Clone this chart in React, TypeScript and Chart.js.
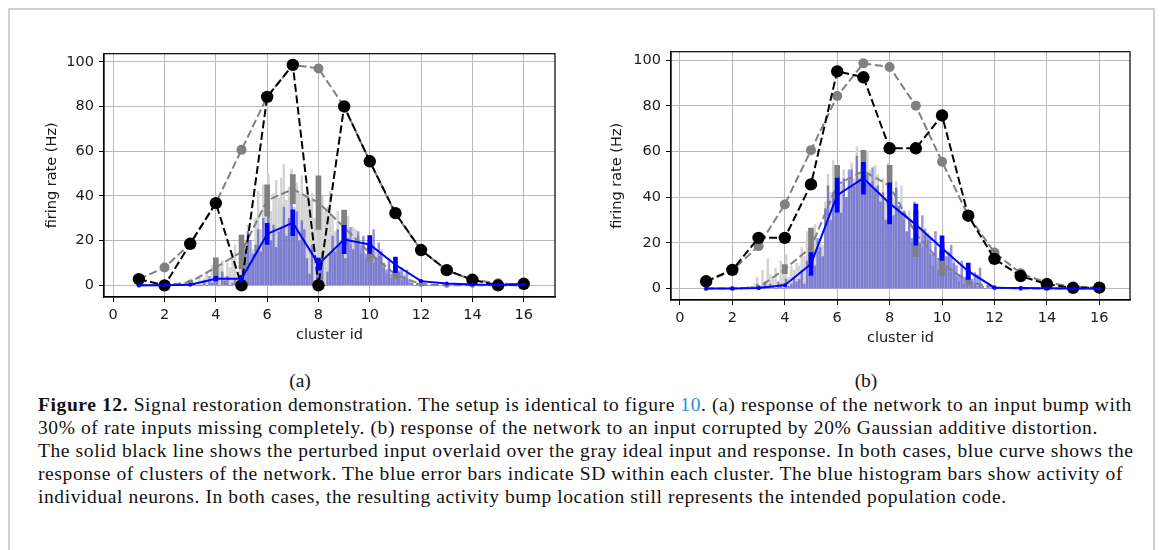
import React, { useEffect, useRef } from "react";
import { Chart, registerables } from "chart.js";
Chart.register(...registerables);

// ---------- data ----------
const CLUSTERS = [1, 2, 3, 4, 5, 6, 7, 8, 9, 10, 11, 12, 13, 14, 15, 16];
const X_TICKS = [0, 2, 4, 6, 8, 10, 12, 14, 16];
const Y_TICKS = [0, 20, 40, 60, 80, 100];

// ideal (unperturbed) input, same in both panels
const IDEAL_INPUT = [2.8, 8, 18.6, 36.8, 60.6, 84.3, 98.6, 97, 80, 55.5, 32, 15.8, 6.7, 2.5, 0.9, 0.4];
// (a) input with 30% of rates missing
const INPUT_A = [2.8, 0, 18.6, 36.8, 0, 84.3, 98.6, 0, 80, 55.5, 32.3, 15.8, 6.8, 2.5, 0, 0.7];
// (b) input with 20% gaussian distortion
const INPUT_B = [3.2, 8.2, 22.2, 22.2, 45.6, 95.1, 92.5, 61.4, 61.4, 75.8, 31.9, 13, 5.5, 1.9, 0.3, 0.4];

// ideal response (gray) mean / sd per cluster
const IDEAL_RESP_A = [0, 0, 1.5, 8, 15, 38, 43, 37, 26, 14.5, 4.8, 0.5, 0, 0, 0, 0];
const IDEAL_SD_A = [0, 0, 0.5, 4.3, 7.5, 7, 6.5, 12, 7.7, 3.7, 1.8, 0.3, 0, 0, 0, 0];
const IDEAL_RESP_B = [0, 0, 0.5, 8.5, 18, 45.5, 51.5, 45, 24, 11, 3, 0.5, 0, 0, 0, 0];
const IDEAL_SD_B = [0, 0, 0.3, 2, 8.5, 8.5, 9, 9, 10, 5.5, 1.5, 0.2, 0, 0, 0, 0];

// perturbed response (blue) mean / sd per cluster
const RESP_A = [0, 0, 0.3, 3, 3, 23, 28, 9.5, 20.5, 18.3, 9.2, 1.9, 0.8, 0.4, 0.3, 0.3];
const RESP_SD_A = [0, 0, 0.2, 1, 1.5, 4.7, 5.8, 2.7, 6.3, 4, 3.5, 0.4, 0, 0, 0, 0];
const RESP_B = [0, 0, 0.3, 1.5, 10.8, 40.9, 48.3, 37.3, 28, 17.7, 7.6, 0.4, 0.2, 0.1, 0, 0];
const RESP_SD_B = [0, 0, 0.1, 0.3, 5, 7.5, 7, 9, 9, 5.4, 3.6, 0.2, 0, 0, 0, 0];

// individual neurons (10 per cluster), clusters 3..12
const HIST_CLUSTERS = [3, 4, 5, 6, 7, 8, 9, 10, 11, 12];
const NEURON_OFFSETS = [-0.45, -0.35, -0.25, -0.15, -0.05, 0.05, 0.15, 0.25, 0.35, 0.45];

const HIST_IDEAL_A = [
  [0, 0, 1, 0, 2, 3, 1, 0, 4, 2],
  [3, 6, 2, 9, 12, 5, 8, 11, 4, 10],
  [8, 14, 18, 6, 22, 12, 19, 27, 10, 16],
  [30, 42, 25, 45, 36, 50, 33, 41, 47, 39],
  [48, 54, 38, 44, 52, 35, 46, 41, 49, 40],
  [44, 38, 41, 30, 36, 28, 40, 33, 35, 42],
  [30, 24, 33, 20, 28, 22, 31, 18, 26, 25],
  [22, 14, 19, 12, 17, 20, 10, 15, 13, 16],
  [8, 5, 10, 3, 6, 4, 7, 2, 5, 3],
  [1, 2, 0, 1, 0, 0, 1, 0, 0, 0],
];
const HIST_RESP_A = [
  [0, 0, 0, 1, 0, 0, 1, 0, 0, 0],
  [2, 0, 4, 1, 5, 3, 0, 6, 2, 4],
  [0, 1, 3, 0, 2, 10, 16, 24, 20, 14],
  [18, 25, 15, 30, 22, 40, 20, 27, 17, 24],
  [26, 35, 22, 30, 38, 24, 33, 20, 29, 25],
  [12, 5, 18, 2, 10, 8, 15, 0, 6, 14],
  [22, 15, 25, 18, 28, 12, 21, 26, 16, 20],
  [24, 18, 22, 14, 20, 16, 25, 12, 19, 15],
  [10, 7, 12, 5, 9, 11, 6, 8, 4, 7],
  [2, 1, 0, 1, 0, 0, 1, 0, 0, 0],
];
const HIST_IDEAL_B = [
  [0, 1, 0, 2, 5, 1, 8, 3, 13, 6],
  [4, 9, 2, 12, 7, 15, 5, 10, 8, 11],
  [10, 18, 14, 25, 12, 20, 28, 16, 22, 19],
  [38, 50, 42, 56, 35, 48, 45, 52, 40, 47],
  [55, 48, 62, 50, 58, 45, 60, 52, 47, 54],
  [50, 42, 48, 38, 55, 44, 40, 47, 36, 45],
  [30, 25, 34, 20, 28, 22, 26, 18, 24, 21],
  [15, 10, 18, 8, 13, 11, 9, 14, 7, 12],
  [5, 3, 6, 2, 4, 1, 3, 2, 1, 2],
  [1, 0, 1, 0, 0, 1, 0, 0, 0, 0],
];
const HIST_RESP_B = [
  [0, 0, 1, 0, 2, 0, 1, 3, 0, 2],
  [1, 0, 3, 2, 0, 4, 1, 2, 5, 3],
  [4, 8, 2, 12, 6, 15, 10, 22, 18, 14],
  [35, 45, 30, 42, 38, 50, 33, 48, 40, 52],
  [52, 45, 58, 48, 42, 55, 50, 46, 53, 44],
  [45, 38, 42, 30, 40, 35, 32, 44, 36, 33],
  [34, 25, 30, 22, 38, 28, 20, 32, 26, 24],
  [22, 15, 25, 12, 18, 20, 14, 16, 19, 11],
  [10, 6, 12, 5, 8, 9, 4, 7, 6, 9],
  [1, 0, 1, 0, 0, 0, 0, 0, 0, 0],
];

const CAPTION_LINES = [
  "Signal restoration demonstration. The setup is identical to figure ",
  "30% of rate inputs missing completely. (b) response of the network to an input corrupted by 20% Gaussian additive distortion.",
  "The solid black line shows the perturbed input overlaid over the gray ideal input and response. In both cases, blue curve shows the",
  "response of clusters of the network. The blue error bars indicate SD within each cluster. The blue histogram bars show activity of",
  "individual neurons. In both cases, the resulting activity bump location still represents the intended population code.",
];

// ---------- helpers ----------
const pts = (vals: number[]) => CLUSTERS.map((c, i) => ({ x: c, y: vals[i] }));
const histPts = (h: number[][]) => {
  const out: { x: number; y: number }[] = [];
  h.forEach((vals, ci) => vals.forEach((v, i) => out.push({ x: HIST_CLUSTERS[ci] + NEURON_OFFSETS[i], y: v })));
  return out;
};
const errPts = (m: number[], sd: number[]) =>
  CLUSTERS.map((c, i) => ({ x: c, y: [m[i] - sd[i], m[i] + sd[i]] })).filter((_, i) => sd[i] > 0);

const TICK_FONT = { family: "'DejaVu Sans', sans-serif", size: 14.5 };
const TEXT_COLOR = "#1a1a1a";
const DASH = [8, 3.5];

const framePlugin = {
  id: "frame",
  afterDraw(chart: any) {
    const { ctx, chartArea: a } = chart;
    ctx.save();
    ctx.strokeStyle = "#000";
    ctx.lineWidth = 1.2;
    ctx.strokeRect(a.left, a.top, a.right - a.left, a.bottom - a.top);
    ctx.restore();
  },
};

type PanelProps = {
  input: number[];
  idealResp: number[];
  idealSd: number[];
  resp: number[];
  respSd: number[];
  histIdeal: number[][];
  histResp: number[][];
  yAxisWidth: number;
  yTitlePad: number;
  xAxisHeight: number;
  pad: { left: number; right: number; top: number; bottom: number };
  xRange: [number, number];
  yRange: [number, number];
  width: number;
  height: number;
  style: React.CSSProperties;
};

function Panel(p: PanelProps) {
  const ref = useRef<HTMLCanvasElement>(null);
  useEffect(() => {
    if (!ref.current) return;
    const chart = new Chart(ref.current, {
      type: "bar",
      data: {
        datasets: [
          {
            type: "bar",
            data: histPts(p.histIdeal) as any,
            backgroundColor: "#d3d3d3",
            barThickness: 1.8,
            grouped: false,
            order: 10,
          } as any,
          {
            type: "bar",
            data: histPts(p.histResp) as any,
            backgroundColor: "rgba(20,20,205,0.45)",
            barThickness: 1.8,
            grouped: false,
            order: 9,
          } as any,
          {
            type: "bar",
            data: errPts(p.idealResp, p.idealSd) as any,
            backgroundColor: "#808080",
            barThickness: 5,
            grouped: false,
            order: 8,
          } as any,
          {
            type: "line",
            data: pts(p.idealResp) as any,
            borderColor: "#808080",
            borderWidth: 2,
            borderDash: DASH,
            pointRadius: 2.5,
            pointBackgroundColor: "#808080",
            pointBorderWidth: 0,
            order: 7,
          },
          {
            type: "line",
            data: pts(IDEAL_INPUT) as any,
            borderColor: "#808080",
            borderWidth: 2,
            borderDash: DASH,
            pointRadius: 5,
            pointBackgroundColor: "#808080",
            pointBorderWidth: 0,
            order: 6,
          },
          {
            type: "line",
            data: pts(p.input) as any,
            borderColor: "#000",
            borderWidth: 2,
            borderDash: DASH,
            pointRadius: 6.2,
            pointBackgroundColor: "#000",
            pointBorderWidth: 0,
            order: 5,
          },
          {
            type: "bar",
            data: errPts(p.resp, p.respSd) as any,
            backgroundColor: "#0000ff",
            barThickness: 4,
            grouped: false,
            order: 4,
          } as any,
          {
            type: "line",
            data: pts(p.resp) as any,
            borderColor: "#0000ff",
            borderWidth: 2,
            pointRadius: 2,
            pointBackgroundColor: "#0000ff",
            pointBorderWidth: 0,
            order: 3,
          },
        ],
      },
      options: {
        animation: false,
        responsive: false,
        maintainAspectRatio: false,
        events: [],
        layout: { padding: p.pad },
        plugins: { legend: { display: false }, tooltip: { enabled: false } },
        scales: {
          x: {
            type: "linear",
            min: p.xRange[0],
            max: p.xRange[1],
            offset: false,
            afterBuildTicks: (s: any) => {
              s.ticks = X_TICKS.map((v) => ({ value: v }));
            },
            afterFit: (s: any) => {
              s.height = p.xAxisHeight;
            },
            ticks: { font: TICK_FONT, color: TEXT_COLOR, padding: 5, maxRotation: 0, autoSkip: false },
            grid: { color: "#b8b8b8", lineWidth: 1, tickColor: "#000", tickLength: 5, offset: false },
            border: { display: true, color: "#000", width: 1.2 },
            title: { display: true, text: "cluster id", font: TICK_FONT, color: TEXT_COLOR, padding: 0 },
          },
          y: {
            type: "linear",
            min: p.yRange[0],
            max: p.yRange[1],
            afterBuildTicks: (s: any) => {
              s.ticks = Y_TICKS.map((v) => ({ value: v }));
            },
            afterFit: (s: any) => {
              s.width = p.yAxisWidth;
            },
            ticks: { font: TICK_FONT, color: TEXT_COLOR, padding: 5 },
            grid: { color: "#b8b8b8", lineWidth: 1, tickColor: "#000", tickLength: 5 },
            border: { display: true, color: "#000", width: 1.2 },
            title: {
              display: true,
              text: "firing rate (Hz)",
              font: TICK_FONT,
              color: TEXT_COLOR,
              padding: { top: p.yTitlePad, bottom: 0 },
            },
          },
        },
      } as any,
      plugins: [framePlugin],
    });
    return () => chart.destroy();
  }, []);
  return (
    <div style={{ position: "absolute", width: p.width, height: p.height, ...p.style }}>
      <canvas ref={ref} width={p.width} height={p.height} style={{ width: p.width, height: p.height, display: "block" }} />
    </div>
  );
}

const serif = "'Liberation Serif', 'Times New Roman', serif";

export default function App() {
  // page coords offset by body margin (8px)
  const o = 8;
  const lineTops = [405, 428, 451, 474, 497];
  return (
    <div style={{ position: "relative", width: 1159, height: 542 }}>
      <div
        style={{
          position: "absolute",
          left: 0,
          top: 0,
          width: 1147,
          height: 560,
          borderTop: "2px solid #d0d0d0",
          borderLeft: "2px solid #d0d0d0",
          borderRight: "2px solid #d0d0d0",
          boxSizing: "border-box",
        }}
      />
      <Panel
        input={INPUT_A}
        idealResp={IDEAL_RESP_A}
        idealSd={IDEAL_SD_A}
        resp={RESP_A}
        respSd={RESP_SD_A}
        histIdeal={HIST_IDEAL_A}
        histResp={HIST_RESP_A}
        yAxisWidth={84}
        yTitlePad={23.3}
        xAxisHeight={46.7}
        pad={{ left: 0, right: 20, top: 9, bottom: 6.3 }}
        xRange={[-0.36, 17.22]}
        yRange={[-5.2, 103.6]}
        width={575 - 20}
        height={310}
        style={{ left: 20 - o, top: 40 - o }}
      />
      <Panel
        input={INPUT_B}
        idealResp={IDEAL_RESP_B}
        idealSd={IDEAL_SD_B}
        resp={RESP_B}
        respSd={RESP_SD_B}
        histIdeal={HIST_IDEAL_B}
        histResp={HIST_RESP_B}
        yAxisWidth={81}
        yTitlePad={18.3}
        xAxisHeight={46.7}
        pad={{ left: 0, right: 20, top: 9.3, bottom: 6.3 }}
        xRange={[-0.34, 17.17]}
        yRange={[-5.0, 103.7]}
        width={1150 - 590}
        height={315}
        style={{ left: 590 - o, top: 38 - o }}
      />
      <div style={{ position: "absolute", left: 300 - o - 30, width: 60, top: 381 - o - 12, height: 24, lineHeight: "24px", textAlign: "center", fontFamily: serif, fontSize: 19.5, color: "#111" }}>(a)</div>
      <div style={{ position: "absolute", left: 866 - o - 30, width: 60, top: 381 - o - 12, height: 24, lineHeight: "24px", textAlign: "center", fontFamily: serif, fontSize: 19.5, color: "#111" }}>(b)</div>
      {CAPTION_LINES.map((line, i) => (
        <div
          key={i}
          style={{
            position: "absolute",
            left: 38 - o,
            top: lineTops[i] - o - 12,
            height: 24,
            lineHeight: "24px",
            fontFamily: serif,
            fontSize: 19.5,
            letterSpacing: "0.6px",
            color: "#111",
            whiteSpace: "nowrap",
            textAlign: "left",
          } as React.CSSProperties}
        >
          {i === 0 ? (
            <>
              <b>Figure 12.</b> {line}
              <span style={{ color: "#2a8fcf" }}>10</span>. (a) response of the network to an input bump with
            </>
          ) : (
            line
          )}
        </div>
      ))}
    </div>
  );
}
